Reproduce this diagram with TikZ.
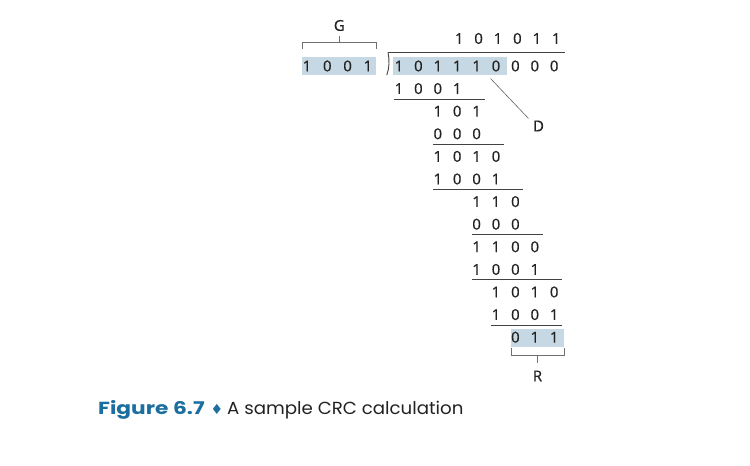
\documentclass[tikz,border=0pt]{standalone}
\usepackage{fontspec}
\setmainfont{Open Sans}
\newfontfamily\digfont{Open Sans}[FakeBold=0.4]
\newfontfamily\capfont{Poppins}[FakeStretch=1.24]
\newfontfamily\captext{Poppins}[FakeStretch=1.04]
\newfontfamily\symfont{DejaVu Sans}
\usetikzlibrary{calc}
\definecolor{hl}{HTML}{C6D8E3}
\definecolor{capblue}{HTML}{1B6E9E}
\definecolor{ink}{HTML}{222222}
\tikzset{
  dig/.style={font=\digfont\fontsize{15}{17}\selectfont, text=ink, inner sep=0pt, text height=10.7pt, text depth=0pt, anchor=center},
  rulel/.style={draw=ink!85, line width=0.9pt},
  brk/.style={draw=ink!65, line width=0.8pt},
  thinl/.style={draw=ink!70, line width=0.6pt},
  hlbox/.style={fill=hl, draw=none},
}
\newcommand\cx[1]{399+(#1-1)*19.4}
\newcommand\ry[1]{66+(#1-1)*22.6}
\newcommand\digrow[3]{\foreach \d [count=\i from #2] in {#3} {\node[dig] (r#1c\i) at ({\cx{\i}},{\ry{#1}}) {\d};}}
\newcommand\digrule[3]{\draw[rulel] ({\cx{#2}-5},{\ry{#1}+10.5}) -- ({\cx{#3}+8},{\ry{#1}+10.5});}
\begin{document}
\begin{tikzpicture}[x=1pt,y=-1pt]
\useasboundingbox (0,0) rectangle (750,466);
% highlight boxes
\fill[hlbox] (302,56.8) rectangle (376,75.2);
\fill[hlbox] (393,56.8) rectangle (507,75.2);
\fill[hlbox] (511,328.5) rectangle (564,346.5);
% generator G
\foreach \d [count=\i from 0] in {1,0,0,1} {\node[dig] (g\i) at ({307+\i*20.3},66) {\d};}
\coordinate (gl) at (302,42.3);
\coordinate (gr) at (376,42.3);
\draw[brk] ($(gl)+(0,7)$) -- (gl) -- (gr) -- ($(gr)+(0,7)$);
\coordinate (gm) at (339.3,42.3);
\node[dig] (G) at (339.3,25.5) {G};
\draw[brk] (gm) -- ($(gm)+(0,-6.5)$);
% quotient
\foreach \d [count=\i from 4] in {1,0,1,0,1,1} {\node[dig] (q\i) at ({\cx{\i}+2},38.5) {\d};}
% division bar
\draw[rulel] (388,52.3) -- (565,52.3);
\draw[rulel] (388,52.3) .. controls (389.6,60) and (389.4,68) .. (386.8,75);
% rows
\digrow{1}{1}{1,0,1,1,1,0,0,0,0}
\digrow{2}{1}{1,0,0,1}
\digrow{3}{3}{1,0,1}
\digrow{4}{3}{0,0,0}
\digrow{5}{3}{1,0,1,0}
\digrow{6}{3}{1,0,0,1}
\digrow{7}{5}{1,1,0}
\digrow{8}{5}{0,0,0}
\digrow{9}{5}{1,1,0,0}
\digrow{10}{5}{1,0,0,1}
\digrow{11}{6}{1,0,1,0}
\digrow{12}{6}{1,0,0,1}
\digrow{13}{7}{0,1,1}
% rules
\digrule{2}{1}{5}
\digrule{4}{3}{6}
\digrule{6}{3}{7}
\digrule{8}{5}{8}
\digrule{10}{5}{9}
\digrule{12}{6}{9}
% D label
\node[dig] (D) at (538.5,126) {D};
\coordinate (dstart) at (490.5,78.5);
\coordinate (dend) at (528.5,118.5);
\draw[thinl] (dstart) -- (dend);
% R bracket
\coordinate (rl) at (511,355);
\coordinate (rr) at (564,355);
\draw[brk] ($(rl)+(0,-7)$) -- (rl) -- (rr) -- ($(rr)+(0,-7)$);
\coordinate (rm) at (537.5,355);
\node[dig] (R) at (537.5,376) {R};
\draw[brk] (rm) -- ($(rm)+(0,7.5)$);
% caption
\node[anchor=base west, inner sep=0pt, text=ink] (cap) at (98,414.3)
  {{\capfont\bfseries\fontsize{17.5}{18}\selectfont\color{capblue}Figure 6.7}\hspace{6pt}{\symfont\fontsize{14}{14}\selectfont\color{capblue}\char"2666}\hspace{4pt}{\captext\fontsize{17.5}{18}\selectfont A sample CRC calculation}};
\end{tikzpicture}
\end{document}
